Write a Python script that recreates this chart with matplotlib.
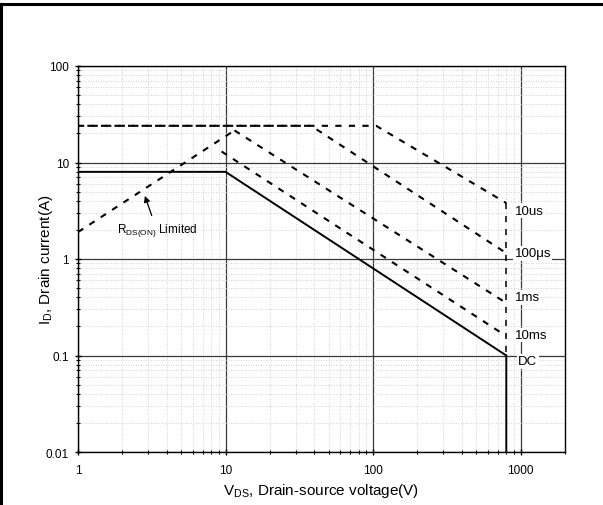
import matplotlib
matplotlib.use("Agg")
import matplotlib.pyplot as plt
from matplotlib.lines import Line2D
from matplotlib.ticker import LogLocator, NullFormatter, FixedLocator, FixedFormatter

plt.rcParams['font.family'] = ['Liberation Sans', 'DejaVu Sans']
plt.rcParams['mathtext.fontset'] = 'custom'
plt.rcParams['mathtext.rm'] = 'Liberation Sans'
plt.rcParams['mathtext.it'] = 'Liberation Sans:italic'

# ---- data ----
dc_v = [1, 10, 800, 800]
dc_i = [8.0, 8.0, 0.1, 0.01]

rds_v = [1, 11.5]
rds_i = [1.9, 21.5]

us10_v = [1, 105, 800, 800]
us10_i = [24, 24, 3.8, 0.1]

us100_v = [1, 38, 800]
us100_i = [24, 24, 1.15]

ms1_v = [11.5, 800]
ms1_i = [21.5, 0.35]

ms10_v = [9.4, 800]
ms10_i = [13, 0.159]

curve_labels = ['10us', '100\u03bcs', '1ms', '10ms', 'DC']
label_i = [3.15, 1.15, 0.40, 0.163, 0.087]
label_v = 910

x_ticks = [1, 10, 100, 1000]
x_ticklabels = ['1', '10', '100', '1000']
y_ticks = [0.01, 0.1, 1, 10, 100]
y_ticklabels = ['0.01', '0.1', '1', '10', '100']

# ---- figure ----
fig = plt.figure(figsize=(6.03, 5.06), dpi=100)
ax = fig.add_axes([78/603, 1-453/506, (565-78)/603, (453-67)/506])
ax.set_xscale('log')
ax.set_yscale('log')
ax.set_xlim(1, 2000)
ax.set_ylim(0.01, 100)

# grid
ax.grid(which='major', color='#3a3a3a', linewidth=0.9, linestyle='-', zorder=1)
ax.grid(which='minor', color='#c4c4c4', linewidth=0.6, linestyle=(0, (1, 2)), zorder=1)
ax.xaxis.set_minor_locator(LogLocator(base=10, subs=range(2, 10), numticks=20))
ax.yaxis.set_minor_locator(LogLocator(base=10, subs=range(2, 10), numticks=20))
ax.xaxis.set_minor_formatter(NullFormatter())
ax.yaxis.set_minor_formatter(NullFormatter())
ax.xaxis.set_major_locator(FixedLocator(x_ticks))
ax.xaxis.set_major_formatter(FixedFormatter(x_ticklabels))
ax.yaxis.set_major_locator(FixedLocator(y_ticks))
ax.yaxis.set_major_formatter(FixedFormatter(y_ticklabels))
ax.set_axisbelow(True)

ax.tick_params(which='major', direction='inout', length=5, width=1, labelsize=8.5)
ax.tick_params(axis='x', which='major', pad=6)
ax.tick_params(axis='y', which='major', pad=4)
ax.tick_params(which='minor', direction='inout', length=3, width=0.8)
for s in ax.spines.values():
    s.set_linewidth(1.0)
    s.set_color('black')

dash = (0, (3, 3.5))
lw = 1.5
ax.plot(dc_v, dc_i, color='black', lw=1.4, solid_joinstyle='miter', zorder=4)
ax.plot(rds_v, rds_i, color='black', lw=lw, linestyle=dash, zorder=4)
ax.plot(us10_v[:3], us10_i[:3], color='black', lw=lw, linestyle=dash, zorder=4)
ax.plot(us10_v[2:], us10_i[2:], color='black', lw=1.1, linestyle=(0, (4, 4.5)), zorder=4)
ax.plot(us100_v, us100_i, color='black', lw=lw, linestyle=(2, (3, 3.5)), zorder=4)
ax.plot(ms1_v, ms1_i, color='black', lw=lw, linestyle=dash, zorder=4)
ax.plot(ms10_v, ms10_i, color='black', lw=lw, linestyle=dash, zorder=4)

for lab, yi in zip(curve_labels, label_i):
    ax.text(label_v if lab != 'DC' else 960, yi, lab, fontsize=9.5, ha='left', va='center',
            bbox=dict(facecolor='white', edgecolor='none', pad=1.0), zorder=5)

ax.annotate('', xy=(2.84, 4.51), xytext=(3.16, 2.82),
            arrowprops=dict(arrowstyle='-|>', color='black', lw=0.9, mutation_scale=9,
                            shrinkA=0, shrinkB=0), zorder=5)
ax.text(1.83, 2.0, r'R$_{\mathrm{DS(ON)}}$ Limited', fontsize=8.5, ha='left', va='center', zorder=5)

ax.set_xlabel(r'V$_{\mathrm{DS}}$, Drain-source voltage(V)', fontsize=11, labelpad=4)
ax.set_ylabel(r'I$_{\mathrm{D}}$, Drain current(A)', fontsize=11)
ax.yaxis.set_label_coords(-0.047, 0.5)

# outer frame lines (top and left)
fig.add_artist(Line2D([0, 1], [1-5/506, 1-5/506], transform=fig.transFigure, color='black', lw=2.2))
fig.add_artist(Line2D([1/603, 1/603], [0, 1-5/506], transform=fig.transFigure, color='black', lw=2.2))

fig.savefig('out.png', dpi=100)
